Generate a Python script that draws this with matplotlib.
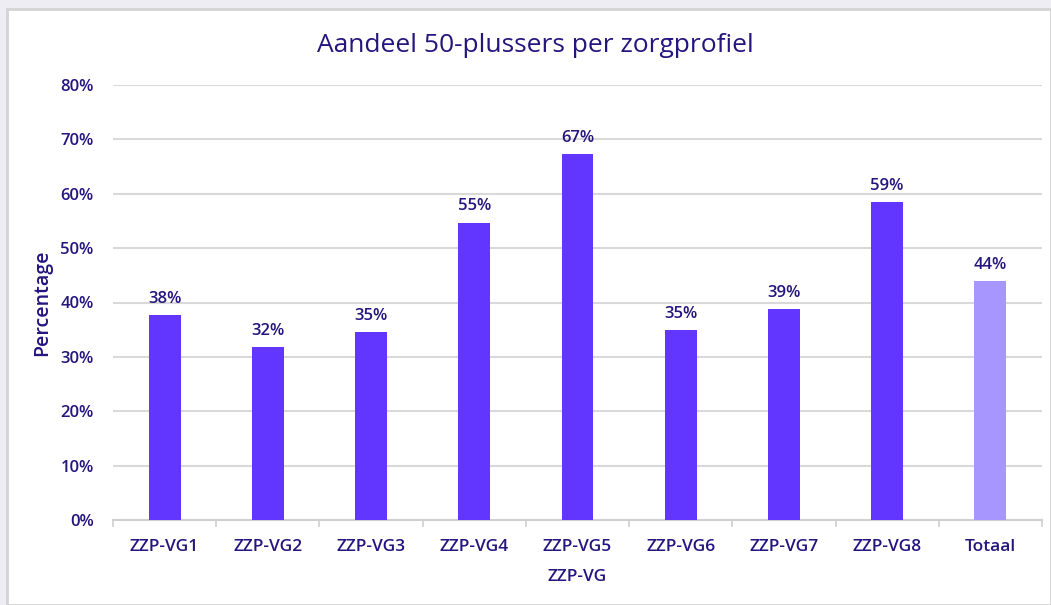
import numpy as np
import matplotlib
matplotlib.use('Agg')
import matplotlib.pyplot as plt
from matplotlib.patches import Rectangle
from matplotlib.ticker import PercentFormatter

# ── data ──────────────────────────────────────────────────────────────────────
categories = ['ZZP-VG1', 'ZZP-VG2', 'ZZP-VG3', 'ZZP-VG4', 'ZZP-VG5',
              'ZZP-VG6', 'ZZP-VG7', 'ZZP-VG8', 'Totaal']
values = [37.7, 31.8, 34.5, 54.7, 67.3, 34.9, 38.8, 58.4, 44.0]
labels = ['38%', '32%', '35%', '55%', '67%', '35%', '39%', '59%', '44%']

BAR = '#6236FF'
BAR_TOT = '#A896FF'
TXT = '#24157F'

plt.rcParams['font.family'] = ['Open Sans', 'DejaVu Sans']

fig = plt.figure(figsize=(10.51, 6.05), dpi=100)
fig.patch.set_facecolor('#EEEDF3')
# white chart frame with grey border
fig.patches.append(Rectangle((7 / 1051, 0), 1 - 7 / 1051, 1 - 9 / 605,
                             transform=fig.transFigure, facecolor='white',
                             edgecolor='#D4D4D4', lw=2, zorder=-5))

ax = fig.add_axes([113 / 1051, 1 - 520 / 605, 929 / 1051, 435 / 605])
ax.set_zorder(2)
ax.patch.set_alpha(0)
x = np.arange(len(categories))
colors = [BAR] * (len(categories) - 1) + [BAR_TOT]
ax.bar(x, values, width=0.31, color=colors, zorder=3)

for xi, v, lab in zip(x, values, labels):
    ax.text(xi, v + 1.5, lab, ha='center', va='bottom', color=TXT,
            fontsize=12, fontweight='semibold')

ax.set_xlim(-0.5, len(categories) - 0.5)
ax.set_ylim(0, 80)
ax.set_yticks(np.arange(0, 81, 10))
ax.yaxis.set_major_formatter(PercentFormatter(decimals=0))
ax.grid(axis='y', color='#D9D9D9', lw=1.5, zorder=0)
ax.set_axisbelow(True)

ax.set_xticks(x)
ax.set_xticklabels(categories)
ax.set_xticks(np.arange(-0.5, len(categories), 1), minor=True)
ax.tick_params(axis='x', which='major', length=0, pad=14, labelsize=12.5, labelcolor=TXT)
ax.tick_params(axis='x', which='minor', length=5, width=1.2, color='#D0D0D0')
ax.tick_params(axis='y', length=0, pad=14, labelsize=12, labelcolor=TXT)
for t in ax.get_xticklabels() + ax.get_yticklabels():
    t.set_fontweight('semibold')

for sp in ['top', 'right', 'left']:
    ax.spines[sp].set_visible(False)
ax.spines['bottom'].set_color('#D0D0D0')
ax.spines['bottom'].set_linewidth(1.5)

ax.set_xlabel('ZZP-VG', color=TXT, fontsize=12.5, labelpad=10, fontweight='semibold')
ax.set_ylabel('Percentage', color=TXT, fontsize=14, labelpad=6, fontweight='semibold')
fig.text(535 / 1051, 1 - 45 / 605, 'Aandeel 50-plussers per zorgprofiel',
         ha='center', va='center', color=TXT, fontsize=19)

fig.savefig('out.png', dpi=100, facecolor=fig.get_facecolor())
